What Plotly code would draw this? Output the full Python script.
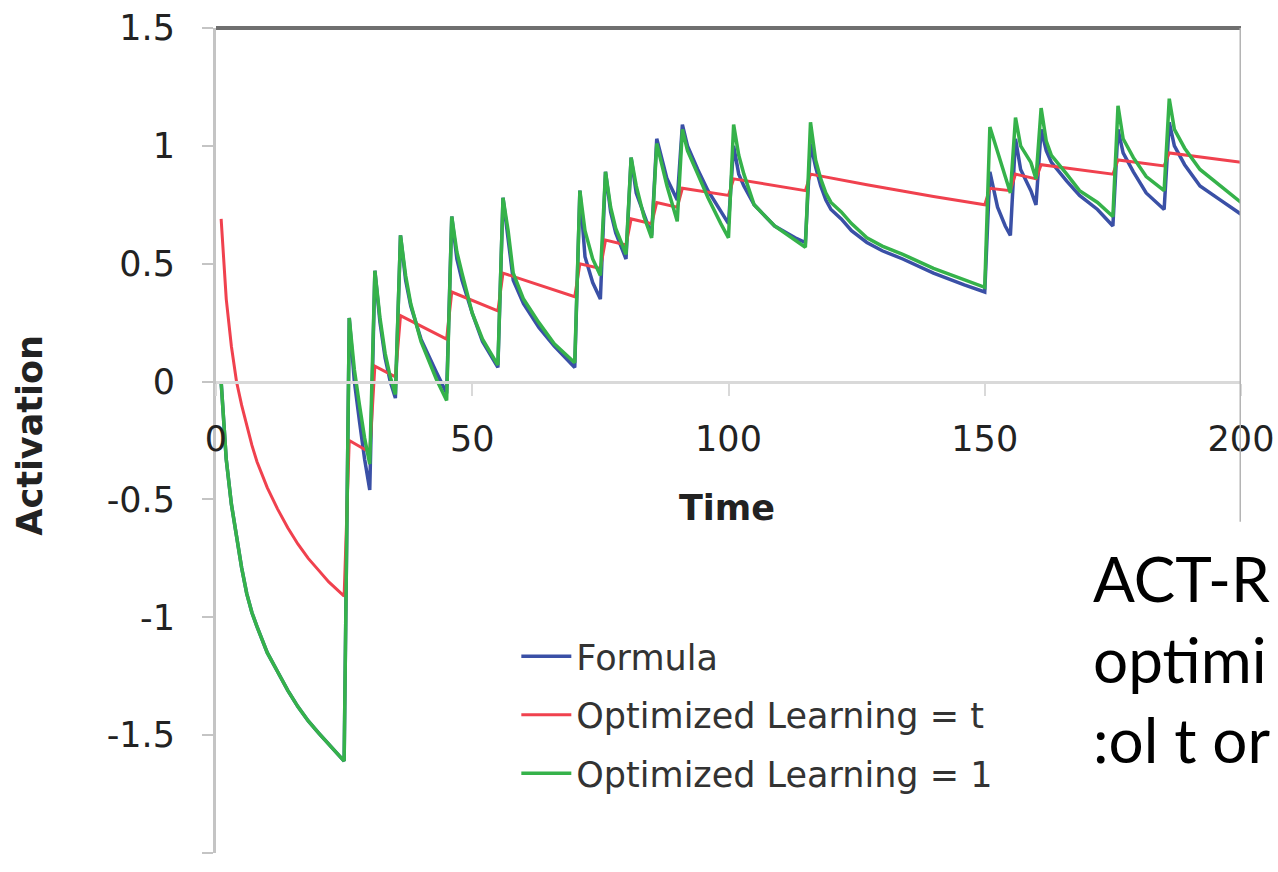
import plotly.graph_objects as go

# ---- data ----
formula_t = [1, 2, 3, 4, 5, 6, 7, 8, 10, 12, 14, 16, 18, 20, 22, 25,
             26, 27, 28, 29, 30,
             31, 32, 33, 34, 35,
             36, 37, 38, 40, 43, 45,
             46, 47, 48, 50, 52, 55,
             56, 57, 58, 60, 63, 66, 70,
             71, 72, 73.5, 75,
             76, 77, 78, 80,
             81, 82, 83.5, 85,
             86, 88, 90,
             91, 92, 94, 96, 98.5, 100,
             101, 102, 103, 105, 109, 113, 115,
             116, 117, 118, 119, 120, 122, 124, 127, 130, 134, 140, 146, 150,
             151, 152.5, 154, 155,
             156, 157, 159, 160,
             161, 162, 163, 166, 168.5, 172, 175,
             176, 177, 179, 181.5, 185,
             186, 187, 189, 192, 196, 200]
formula_v = [0.00, -0.33, -0.52, -0.66, -0.79, -0.90, -0.98, -1.04, -1.15, -1.23, -1.31, -1.38, -1.44, -1.49, -1.54, -1.61,
             0.27, 0.00, -0.17, -0.33, -0.46,
             0.47, 0.25, 0.10, 0.00, -0.07,
             0.62, 0.43, 0.32, 0.18, 0.04, -0.05,
             0.70, 0.52, 0.43, 0.29, 0.17, 0.06,
             0.78, 0.60, 0.43, 0.33, 0.23, 0.15, 0.06,
             0.81, 0.53, 0.42, 0.35,
             0.89, 0.72, 0.63, 0.52,
             0.95, 0.80, 0.71, 0.62,
             1.03, 0.86, 0.77,
             1.09, 1.00, 0.90, 0.81, 0.72, 0.67,
             1.00, 0.88, 0.83, 0.75, 0.66, 0.61, 0.59,
             1.01, 0.91, 0.83, 0.77, 0.73, 0.69, 0.64, 0.59, 0.555, 0.52, 0.46, 0.41, 0.38,
             0.89, 0.74, 0.66, 0.62,
             1.03, 0.90, 0.81, 0.75,
             1.07, 0.98, 0.93, 0.85, 0.79, 0.73, 0.66,
             1.07, 0.97, 0.89, 0.80, 0.73,
             1.10, 1.00, 0.92, 0.83, 0.77, 0.71]

ol1_t = list(formula_t)
ol1_v = [0.00, -0.33, -0.52, -0.66, -0.79, -0.90, -0.98, -1.04, -1.15, -1.23, -1.31, -1.38, -1.44, -1.49, -1.54, -1.61,
         0.27, 0.05, -0.10, -0.24, -0.35,
         0.47, 0.27, 0.12, 0.02, -0.055,
         0.62, 0.45, 0.33, 0.17, 0.01, -0.08,
         0.70, 0.55, 0.46, 0.29, 0.18, 0.07,
         0.78, 0.64, 0.46, 0.35, 0.25, 0.16, 0.08,
         0.81, 0.64, 0.52, 0.45,
         0.89, 0.74, 0.65, 0.54,
         0.95, 0.83, 0.70, 0.61,
         1.01, 0.83, 0.68,
         1.07, 0.98, 0.88, 0.78, 0.67, 0.61,
         1.09, 0.96, 0.88, 0.75, 0.66, 0.60, 0.57,
         1.10, 0.94, 0.86, 0.80, 0.76, 0.72, 0.67, 0.61, 0.575, 0.54, 0.48, 0.43, 0.40,
         1.08, 0.97, 0.87, 0.80,
         1.12, 1.00, 0.93, 0.86,
         1.16, 1.02, 0.96, 0.88, 0.81, 0.76, 0.70,
         1.17, 1.03, 0.95, 0.87, 0.81,
         1.20, 1.07, 0.99, 0.90, 0.83, 0.76]

olt_t = [1, 2, 3, 4, 5, 6, 7, 8, 10, 12, 14, 16, 18, 20, 22, 25,
         26, 30, 31, 35, 36, 45, 46, 55, 56, 70, 71, 75, 76, 80, 81, 85,
         86, 90, 91, 100, 101, 115, 116, 127, 140, 150, 151, 155, 156, 160,
         161, 175, 176, 185, 186, 200]
olt_v = [0.69, 0.35, 0.15, 0.00, -0.10, -0.19, -0.27, -0.34, -0.45, -0.54, -0.62, -0.69, -0.75, -0.80, -0.85, -0.91,
         -0.25, -0.30, 0.065, 0.02, 0.28, 0.18, 0.38, 0.30, 0.46, 0.36, 0.50, 0.48,
         0.60, 0.58, 0.69, 0.67, 0.76, 0.74, 0.82, 0.79, 0.86, 0.81, 0.88, 0.835,
         0.785, 0.75, 0.82, 0.81, 0.88, 0.86, 0.92, 0.88, 0.94, 0.915, 0.97, 0.93]

series_names = ["Formula", "Optimized Learning = t", "Optimized Learning = 1"]
x_ticks = [0, 50, 100, 150, 200]
y_ticks = [-2, -1.5, -1, -0.5, 0, 0.5, 1, 1.5]
y_ticktext = ["-2", "-1.5", "-1", "-0.5", "0", "0.5", "1", "1.5"]
x_title = "Time"
y_title = "Activation"
overlay_lines = ["ACT-R", "optimi", ":ol t or"]

BLUE = "#3A50A6"
RED = "#F0414E"
GREEN = "#35B24A"
FONT = "DejaVu Sans"

fig = go.Figure()
fig.add_trace(go.Scatter(x=formula_t, y=formula_v, mode="lines", name=series_names[0],
                         line=dict(color=BLUE, width=3.5), legendgroup="a"))
fig.add_trace(go.Scatter(x=olt_t, y=olt_v, mode="lines", name=series_names[1],
                         line=dict(color=RED, width=3), legendgroup="b"))
fig.add_trace(go.Scatter(x=ol1_t, y=ol1_v, mode="lines", name=series_names[2],
                         line=dict(color=GREEN, width=3.5), legendgroup="c"))

fig.update_layout(
    width=1278, height=872,
    margin=dict(l=216, r=37, t=28, b=19, autoexpand=False),
    paper_bgcolor="white", plot_bgcolor="white",
    font=dict(family=FONT, size=35, color="#222222"),
    showlegend=True,
    legend=dict(x=0.293, y=0.274, xanchor="left", yanchor="top",
                bgcolor="rgba(0,0,0,0)", font=dict(size=35, color="#333333"),
                tracegroupgap=10, itemwidth=50),
    xaxis=dict(range=[0, 200], anchor="free", position=2 / 3.5, automargin=False,
               tickvals=x_ticks, ticktext=[str(v) for v in x_ticks],
               showline=True, linecolor="#d9d9d9", linewidth=3,
               ticks="outside", ticklen=12, tickwidth=2, tickcolor="#d9d9d9",
               showgrid=False, zeroline=False, ticklabelstandoff=13,
               tickfont=dict(size=35, color="#222222")),
    yaxis=dict(range=[-2, 1.5], tickvals=y_ticks, ticktext=y_ticktext, automargin=False,
               showline=True, linecolor="#c4c4c4", linewidth=3,
               ticks="outside", ticklen=11, tickwidth=2, tickcolor="#c4c4c4",
               showgrid=False, zeroline=False, ticklabelstandoff=20,
               tickfont=dict(size=35, color="#222222")),
)

# plot frame: dark top border and right border (cut by the text box)
fig.add_shape(type="line", xref="paper", yref="paper", x0=0, x1=1, y0=1, y1=1,
              line=dict(color="#6f6f6f", width=4), layer="above")
fig.add_shape(type="line", xref="x", yref="y", x0=200, x1=200, y0=1.5, y1=-0.595,
              line=dict(color="#b4b4b4", width=3), layer="above")

# axis titles
fig.add_annotation(text="<b>" + x_title + "</b>", xref="paper", yref="paper",
                   x=0.4985, y=0.418, xanchor="center", yanchor="middle",
                   showarrow=False, font=dict(family=FONT, size=35, color="#222222"))
fig.add_annotation(text="<b>" + y_title + "</b>", xref="paper", yref="paper",
                   x=-0.1815, y=0.507, xanchor="center", yanchor="middle",
                   textangle=-90, showarrow=False,
                   font=dict(family=FONT, size=35, color="#222222"))

# overlaid slide text
fig.add_annotation(text="<br>".join(overlay_lines), xref="paper", yref="paper",
                   x=(1091 - 216) / 1025, y=(853 - 539) / 825, xanchor="left", yanchor="top",
                   align="left", showarrow=False,
                   font=dict(family="Lato", size=62, color="#000000"))

fig.write_html("out.html")
